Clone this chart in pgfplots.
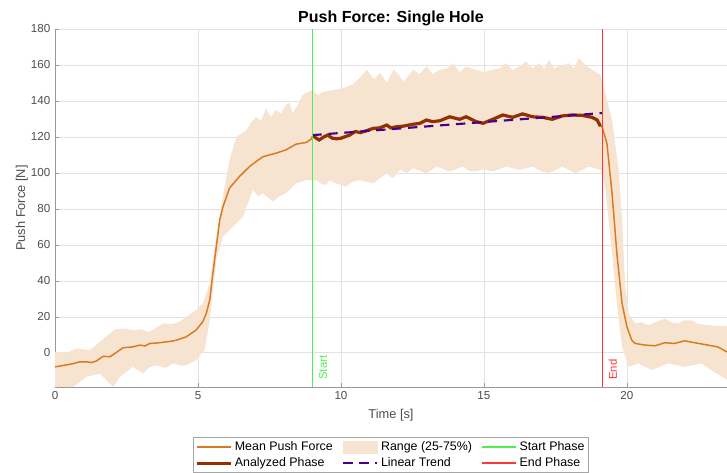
\documentclass[border=0pt]{standalone}
\usepackage{fontspec}
\setmainfont{Liberation Sans}
\usepackage{pgfplots}
\pgfplotsset{compat=1.18}
\usepgfplotslibrary{fillbetween}

\definecolor{meancol}{RGB}{217,122,32}
\definecolor{bandcol}{RGB}{246,228,208}
\definecolor{anacol}{RGB}{145,48,0}
\definecolor{trendcol}{RGB}{72,0,140}
\definecolor{startcol}{RGB}{80,238,80}
\definecolor{endcol}{RGB}{255,55,55}
\definecolor{tickcol}{RGB}{77,77,77}
\definecolor{gridcol}{RGB}{226,226,226}

\pgfplotsset{
  lleg/.style={legend image code/.code={\draw[##1] (0cm,0cm) -- (0.9cm,0cm);}},
  bandlegend/.style={legend image code/.code={\fill[bandcol] (0cm,-0.16cm) rectangle (0.9cm,0.16cm);}},
}

\begin{document}
\begin{tikzpicture}
\begin{axis}[name=ax,
  scale only axis, width=504pt, height=268.5pt,
  xmin=0, xmax=23.5, ymin=-19, ymax=180,
  xtick={0,5,10,15,20}, ytick={0,20,...,180},
  axis lines*=left, axis line style={-, draw=gray!80},
  tick align=inside, major tick length=3pt, tick style={gray!80},
  grid=major, major grid style={gridcol, line width=0.5pt},
  /pgf/number format/assume math mode=true,
  tick label style={font=\fontsize{8.7}{10}\selectfont, text=tickcol},
  label style={font=\fontsize{9.6}{11}\selectfont, text=tickcol},
  ylabel style={yshift=-4.5pt},
  title={Push Force: Single Hole},
  title style={font=\fontsize{12}{14}\bfseries, yshift=-7pt},
  xlabel={Time [s]}, ylabel={Push Force [N]},
  legend columns=3, legend cell align=left,
  legend style={at={(0.5,-0.14)}, anchor=north, draw=gray!70,
    font=\fontsize{9.3}{11}\selectfont, inner sep=1pt, row sep=0pt,
    /tikz/every even column/.append style={column sep=5pt}},
]
% band
\addplot[draw=none, forget plot, name path=up] coordinates {
(0,0.6)(0.4,0)(0.76,2.4)(1.22,1.5)(1.57,6.1)(1.92,10.8)(2.09,13)(2.4,13.5)(2.73,12.6)(3.0,13)(3.31,11.7)(3.55,14)(3.78,16.3)(4.1,16)(4.36,17.3)(4.59,20)(4.93,23.7)(5.17,27.5)(5.41,38.6)(5.64,64.6)(5.87,86.8)(6.1,107)(6.34,120)(6.69,123.6)(6.85,128)(7.03,131)(7.2,129)(7.38,136)(7.55,131)(7.73,135)(7.9,133)(8.08,137.8)(8.2,139)(8.31,133)(8.5,138)(8.66,143.4)(9.01,146.2)(9.2,143)(9.36,145)(9.71,146)(10.06,147)(10.4,149)(10.64,152.7)(10.91,157.3)(11.15,152)(11.37,155.5)(11.6,150)(11.84,157.3)(12.0,155)(12.18,150.8)(12.53,157.3)(12.75,155)(12.99,159.2)(13.2,155)(13.46,157.3)(13.7,158)(13.92,161)(14.15,156)(14.38,159.2)(14.73,157.3)(15.0,156)(15.31,157.3)(15.55,158)(15.77,161)(16.0,157)(16.24,159.2)(16.47,162)(16.7,158)(16.93,161)(17.1,158)(17.28,162.9)(17.45,158)(17.62,159.2)(17.97,161)(18.15,158)(18.32,163.8)(18.55,160)(18.78,157.3)(19.07,154.5)(19.24,144.3)(19.48,129.4)(19.71,101.7)(19.83,73.8)(19.94,36.7)(20.06,21.9)(20.29,16.3)(20.5,17)(20.75,15.4)(21.0,17)(21.33,19)(21.55,17)(21.79,16.3)(22.0,18)(22.25,18.1)(22.5,16)(22.83,15.4)(23.1,15)(23.5,14.8)};
\addplot[draw=none, forget plot, name path=lo] coordinates {
(0,-25)(0.64,-19)(1.1,-13.4)(1.57,-11.5)(2.03,-19)(2.27,-13.4)(2.73,-7.8)(3.08,-11.5)(3.3,-8)(3.55,-6.9)(3.85,-8.5)(4.13,-5.9)(4.35,-7)(4.59,-6.9)(4.93,-4.1)(5.23,1.5)(5.41,18)(5.64,51.6)(5.87,64.6)(6.22,70)(6.57,75.7)(6.92,90.5)(7.1,87)(7.27,88.7)(7.62,84)(7.85,87)(8.08,88.7)(8.43,94.2)(8.78,96)(9.13,96)(9.3,94)(9.48,93.3)(9.6,96)(9.83,94.2)(10.17,92.4)(10.4,95)(10.64,96)(11.14,94.2)(11.35,97)(11.6,99.8)(11.8,97)(12.07,101.7)(12.3,100)(12.53,102.6)(12.99,99.8)(13.34,103.5)(13.8,100.8)(14.27,103.5)(14.5,101)(14.73,100.8)(15.0,102)(15.31,100.8)(15.77,103.5)(16.24,101.7)(16.7,103.5)(17.0,101)(17.28,99.8)(17.74,103.5)(18.2,99.8)(18.67,103.5)(19.07,101.7)(19.24,92.4)(19.48,55.3)(19.65,27.4)(19.83,3.3)(20.06,-7.8)(20.4,-5.9)(20.87,-9.6)(21.45,-5.9)(22.02,-7.8)(22.6,-5.9)(22.95,-9.6)(23.5,-15)};
\addplot[bandcol, draw=none, forget plot] fill between[of=up and lo];
% mean
\addplot[meancol, line width=1.1pt, forget plot] coordinates {
(0,-7.8)(0.3,-7)(0.64,-6)(0.87,-5)(1.1,-5)(1.28,-5.4)(1.45,-4.5)(1.69,-1.9)(1.92,-2.2)(2.09,-0.4)(2.38,2.8)(2.73,3.3)(2.97,4.3)(3.15,3.8)(3.31,5.2)(3.6,5.5)(3.9,6.1)(4.1,6.5)(4.24,7)(4.59,8.9)(4.93,12.6)(5.17,17.3)(5.29,21.9)(5.41,29.3)(5.52,44)(5.64,59)(5.76,73.8)(5.87,81)(6.1,91.5)(6.45,98)(6.8,103.5)(7.03,106.3)(7.27,109)(7.5,110)(7.73,111)(8.08,112.8)(8.43,116)(8.78,116.9)(8.95,118.7)(9.0,120)
(9.12,119.5)(9.24,118.3)(9.4,120)(9.53,121)(9.7,119.3)(9.85,119)(10,119.3)(10.3,121)(10.5,123)(10.68,122.4)(10.9,123.5)(11.14,124.8)(11.35,125)(11.6,126.6)(11.75,125)(11.95,125.7)(12.18,126)(12.5,127)(12.75,127.5)(12.99,129.4)(13.2,128.5)(13.46,129)(13.8,131.2)(14.15,129.8)(14.38,131.2)(14.73,128.5)(14.97,127.6)(15.31,129.8)(15.66,132.2)(16.0,130.9)(16.35,132.8)(16.7,131.2)(17.05,130.9)(17.39,129.8)(17.74,131.7)(18.09,132.2)(18.43,132)(18.78,130.9)(18.96,129.4)(19.07,126)
(19.13,125.7)(19.3,116.5)(19.48,88.6)(19.65,55)(19.83,27.4)(20.0,14.4)(20.17,7)(20.29,5.2)(20.63,4.3)(20.98,3.9)(21.33,5.6)(21.67,5.2)(22.02,6.7)(22.37,5.6)(22.83,4.3)(23.18,3.3)(23.5,0.5)};
% analyzed phase
\addplot[anacol, line width=2.4pt, forget plot] coordinates {
(9.01,121)(9.12,119.5)(9.24,118.3)(9.4,120)(9.53,121)(9.7,119.3)(9.85,119)(10,119.3)(10.3,121)(10.5,123)(10.68,122.4)(10.9,123.5)(11.14,124.8)(11.35,125)(11.6,126.6)(11.75,125)(11.95,125.7)(12.18,126)(12.5,127)(12.75,127.5)(12.99,129.4)(13.2,128.5)(13.46,129)(13.8,131.2)(14.15,129.8)(14.38,131.2)(14.73,128.5)(14.97,127.6)(15.31,129.8)(15.66,132.2)(16.0,130.9)(16.35,132.8)(16.7,131.2)(17.05,130.9)(17.39,129.8)(17.74,131.7)(18.09,132.2)(18.43,132)(18.78,130.9)(18.96,129.4)(19.07,126)};
% linear trend
\addplot[trendcol, line width=1.6pt, dash pattern=on 7pt off 5pt, forget plot] coordinates {(9,121)(19.15,133.3)};
% phase lines
\addplot[startcol, line width=1pt, forget plot] coordinates {(9,-19)(9,180)};
\addplot[endcol, line width=1pt, forget plot] coordinates {(19.15,-19)(19.15,180)};
\node[rotate=90, anchor=west, text=startcol, font=\fontsize{8.5}{10}\selectfont] at (axis cs:9.37,-17.5) {Start};
\node[rotate=90, anchor=west, text=endcol, font=\fontsize{8.5}{10}\selectfont] at (axis cs:19.51,-17.5) {End};
% legend
\addlegendimage{lleg, color=meancol, line width=1.1pt}
\addlegendentry{Mean Push Force}
\addlegendimage{bandlegend}
\addlegendentry{Range (25-75\%)}
\addlegendimage{lleg, color=startcol, line width=1.1pt}
\addlegendentry{Start Phase}
\addlegendimage{lleg, color=anacol, line width=2.4pt}
\addlegendentry{Analyzed Phase}
\addlegendimage{lleg, color=trendcol, line width=1.6pt, dash pattern=on 7pt off 5pt}
\addlegendentry{Linear Trend}
\addlegendimage{lleg, color=endcol, line width=1.1pt}
\addlegendentry{End Phase}
\end{axis}
\pgfresetboundingbox
\path[use as bounding box] ([xshift=-41.25pt,yshift=-64.5pt]ax.south west) rectangle ([yshift=21.75pt]ax.north east);
\end{tikzpicture}
\end{document}
